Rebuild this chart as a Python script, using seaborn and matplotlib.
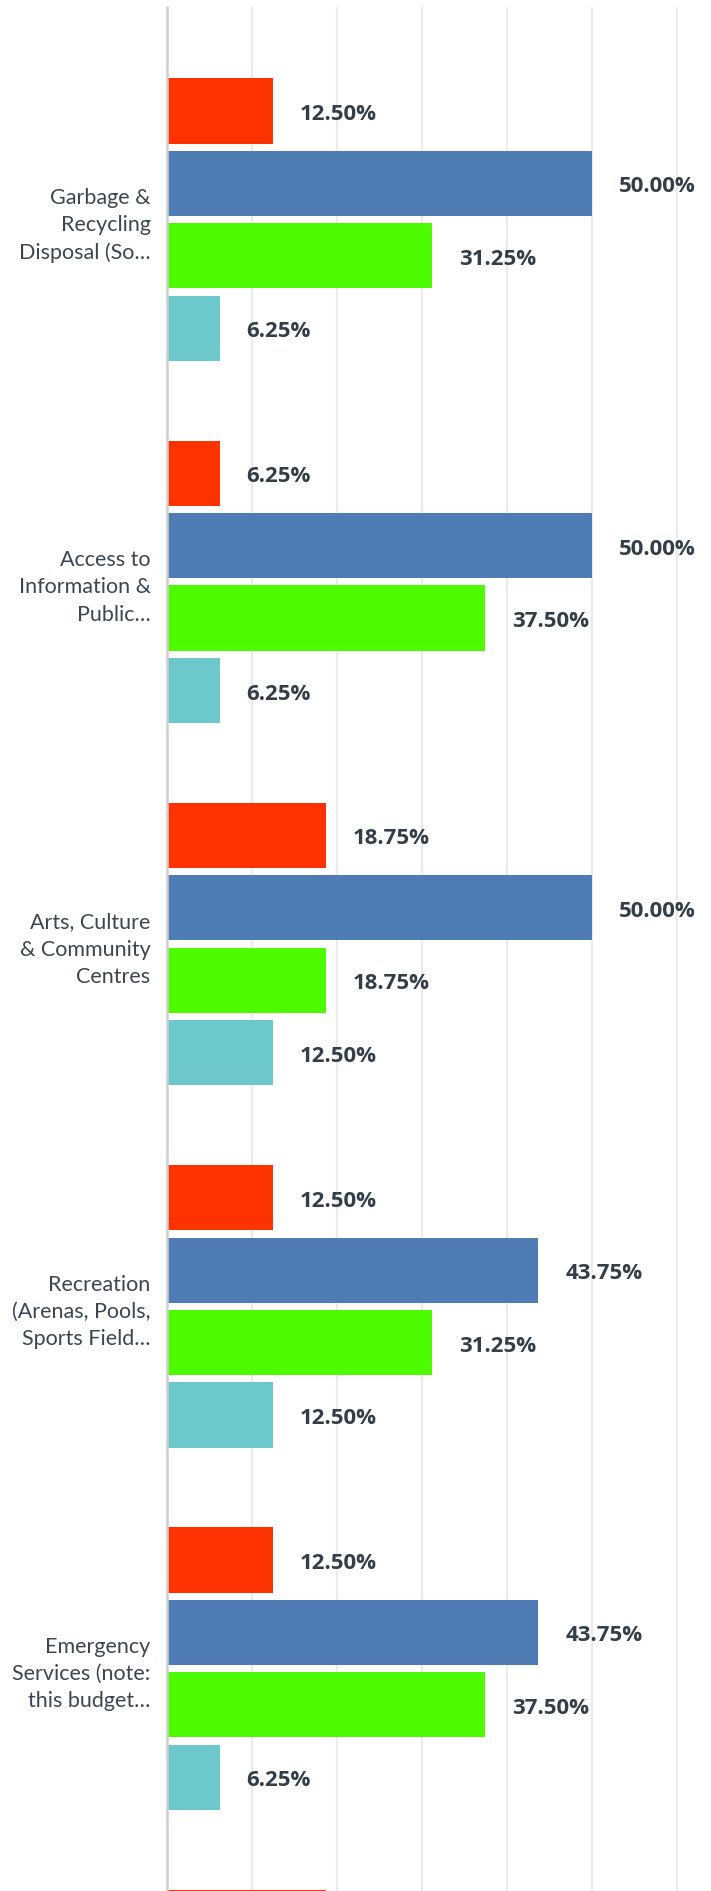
import numpy as np
import pandas as pd
import seaborn as sns
import matplotlib.pyplot as plt

# -----------------------------
# data
# -----------------------------
categories = [
    "Garbage &\nRecycling\nDisposal (So\u2026",
    "Access to\nInformation &\nPublic\u2026",
    "Arts, Culture\n& Community\nCentres",
    "Recreation\n(Arenas, Pools,\nSports Field\u2026",
    "Emergency\nServices (note:\nthis budget\u2026",
    "",  # next group, cut off at the bottom edge
]
series = ["Series 1", "Series 2", "Series 3", "Series 4"]
red_vals = [12.50, 6.25, 18.75, 12.50, 12.50, 18.75]
blue_vals = [50.00, 50.00, 50.00, 43.75, 43.75, np.nan]
green_vals = [31.25, 37.50, 18.75, 31.25, 37.50, np.nan]
cyan_vals = [6.25, 6.25, 12.50, 12.50, 6.25, np.nan]
colors = ["#FF3300", "#507CB6", "#4DFA00", "#6DC8CC"]

df = pd.DataFrame({
    "category": categories * 4,
    "response": np.repeat(series, len(categories)),
    "value": red_vals + blue_vals + green_vals + cyan_vals,
}).dropna()

# -----------------------------
# style
# -----------------------------
sns.set_style("white")
plt.rcParams["font.family"] = ["Open Sans", "DejaVu Sans"]

fig = plt.figure(figsize=(7.11, 18.91), dpi=100)
ax = fig.add_axes([166.5 / 711, 0.0, 1 - 166.5 / 711, 1 - 7 / 1891])

sns.barplot(
    data=df, y="category", x="value", hue="response",
    order=categories, hue_order=series,
    palette=dict(zip(series, colors)),
    width=0.8, gap=0.1, errorbar=None, legend=False,
    saturation=1, linewidth=0, ax=ax,
)

# value labels
for cont in ax.containers:
    labels = [f"{b.get_width():.2f}%" for b in cont]
    anns = ax.bar_label(cont, labels=labels, padding=19.5, fontsize=16,
                        fontweight="bold", color="#333E48")
    for a in anns:
        a.xyann = (19.5, -2.5)

ax.set_xlim(0, (711 - 166.5) / 8.5)
ax.set_ylim(4.614, -0.587)
ax.set_xticks([10, 20, 30, 40, 50, 60])
ax.set_xticklabels([])
ax.grid(axis="x", color="#EBEBEB", linewidth=1.6)
ax.grid(axis="y", visible=False)
ax.set_axisbelow(True)
ax.set_xlabel("")
ax.set_ylabel("")

for s in ["top", "right", "bottom"]:
    ax.spines[s].set_visible(False)
ax.spines["left"].set_color("#CFCFCF")
ax.spines["left"].set_linewidth(1.8)

ax.tick_params(axis="y", length=0, pad=11.5, labelcolor="#3B4650")
ax.tick_params(axis="x", length=0)
for t in ax.get_yticklabels():
    t.set_family(["Lato", "DejaVu Sans"])
    t.set_fontsize(15.5)
    t.set_linespacing(1.45)

fig.savefig("out.png", dpi=100)
